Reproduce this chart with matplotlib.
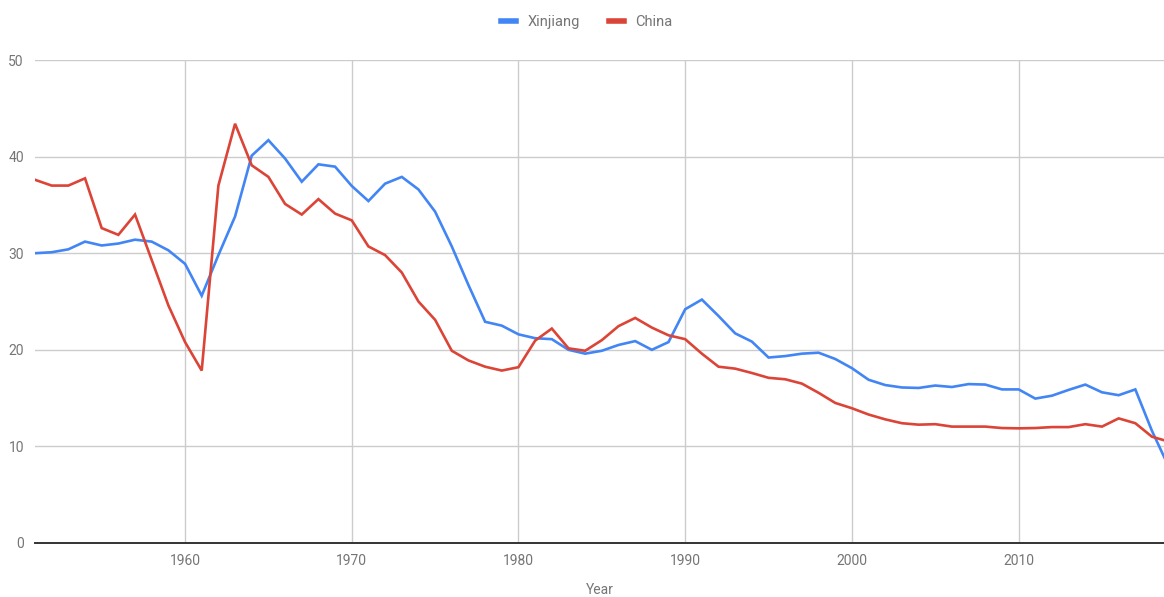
import matplotlib
matplotlib.use("Agg")
import matplotlib.pyplot as plt
from matplotlib.lines import Line2D

plt.rcParams['font.family'] = ['Roboto', 'DejaVu Sans']

years = list(range(1951, 2020))

xinjiang = [
    30.0, 30.1, 30.4, 31.2, 30.8, 31.0, 31.4, 31.2, 30.3, 28.9,  # 1951-1960
    25.6, 29.8, 33.8, 40.1, 41.7, 39.8, 37.4, 39.2, 38.96, 36.96,  # 1961-1970
    35.4, 37.2, 37.9, 36.6, 34.3, 30.7, 26.7, 22.9, 22.5, 21.6,  # 1971-1980
    21.2, 21.1, 20.0, 19.6, 19.9, 20.5, 20.9, 20.0, 20.8, 24.2,  # 1981-1990
    25.2, 23.5, 21.7, 20.85, 19.2, 19.35, 19.6, 19.7, 19.05, 18.1,  # 1991-2000
    16.9, 16.35, 16.1, 16.05, 16.3, 16.15, 16.45, 16.4, 15.9, 15.9,  # 2001-2010
    14.95, 15.25, 15.85, 16.4, 15.6, 15.3, 15.9, 11.6, 7.9,  # 2011-2019
]

china = [
    37.6, 37.0, 37.0, 37.75, 32.6, 31.9, 34.0, 29.3, 24.6, 20.8,  # 1951-1960
    17.85, 37.0, 43.4, 39.1, 37.9, 35.1, 34.0, 35.6, 34.1, 33.4,  # 1961-1970
    30.7, 29.8, 28.0, 25.0, 23.1, 19.9, 18.9, 18.25, 17.85, 18.2,  # 1971-1980
    20.95, 22.2, 20.15, 19.9, 21.0, 22.45, 23.3, 22.3, 21.5, 21.1,  # 1981-1990
    19.6, 18.25, 18.05, 17.6, 17.1, 16.95, 16.5, 15.55, 14.5, 13.95,  # 1991-2000
    13.3, 12.8, 12.4, 12.25, 12.3, 12.05, 12.05, 12.05, 11.9, 11.87,  # 2001-2010
    11.9, 12.0, 12.0, 12.3, 12.05, 12.9, 12.4, 11.0, 10.5,  # 2011-2019
]

BLUE = "#4285F4"
RED = "#DB4437"
GREY = "#757575"
GRID = "#cccccc"

W, H = 1164, 597
fig = plt.figure(figsize=(W / 100, H / 100), dpi=100)
ax = fig.add_axes([35 / W, 1 - 543 / H, (W - 35) / W, (543 - 60) / H])

ax.plot(years, xinjiang, color=BLUE, lw=1.9, solid_joinstyle="miter", zorder=3)
ax.plot(years, china, color=RED, lw=1.9, solid_joinstyle="miter", zorder=3)

ax.set_xlim(1951, 2018.72)
ax.set_ylim(0, 50)
ax.set_yticks([0, 10, 20, 30, 40, 50])
ax.set_xticks([1960, 1970, 1980, 1990, 2000, 2010])
ax.grid(True, color=GRID, lw=1)
ax.set_axisbelow(True)

for s in ["top", "right", "left"]:
    ax.spines[s].set_visible(False)
ax.spines["bottom"].set_color("#333333")
ax.spines["bottom"].set_linewidth(1.4)
ax.spines["bottom"].set_zorder(4)

ax.tick_params(length=0, colors=GREY, labelsize=10)
ax.tick_params(axis="y", pad=8)
ax.tick_params(axis="x", pad=8)

# axis title placed directly so it sits just above the bottom edge
fig.text(600 / W, 1 - 590 / H, "Year", color=GREY, fontsize=10, ha="center", va="center")

handles = [Line2D([], [], color=BLUE, lw=4), Line2D([], [], color=RED, lw=4)]
fig.legend(handles, ["Xinjiang", "China"], loc="center", bbox_to_anchor=(587 / W, 1 - 22 / H),
           ncol=2, frameon=False, handlelength=1.0, handletextpad=0.8, columnspacing=2.0,
           labelcolor=GREY, fontsize=10.5)

fig.savefig("out.png", dpi=100, facecolor="white")
